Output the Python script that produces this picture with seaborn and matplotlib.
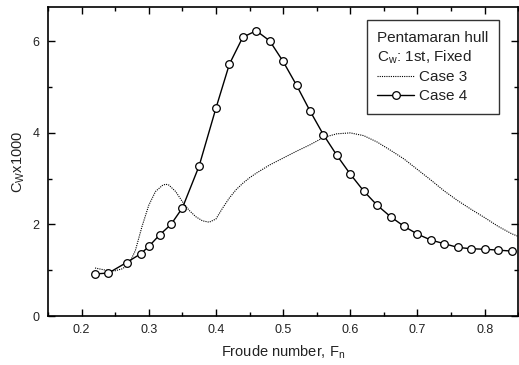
import matplotlib
matplotlib.use("Agg")
import matplotlib.pyplot as plt
import seaborn as sns
import pandas as pd
from matplotlib.ticker import MultipleLocator

# ---- data ----
case3_fn = [0.22, 0.23, 0.24, 0.25, 0.26, 0.27, 0.28, 0.29, 0.30, 0.31, 0.32, 0.325,
            0.33, 0.34, 0.35, 0.36, 0.37, 0.38, 0.39, 0.40, 0.41, 0.42, 0.43, 0.44,
            0.45, 0.46, 0.48, 0.50, 0.52, 0.54, 0.56, 0.58, 0.60, 0.62, 0.64, 0.66,
            0.68, 0.70, 0.72, 0.74, 0.76, 0.78, 0.80, 0.82, 0.84, 0.85]
case3_cw = [1.05, 1.02, 0.99, 0.99, 1.03, 1.12, 1.43, 1.96, 2.42, 2.72, 2.85, 2.88,
            2.86, 2.72, 2.50, 2.31, 2.17, 2.08, 2.05, 2.12, 2.36, 2.58, 2.76, 2.90,
            3.02, 3.12, 3.30, 3.45, 3.60, 3.74, 3.90, 3.98, 4.00, 3.94, 3.80, 3.62,
            3.43, 3.20, 2.97, 2.73, 2.52, 2.33, 2.15, 1.96, 1.80, 1.74]

case4_fn = [0.22, 0.24, 0.267, 0.288, 0.30, 0.316, 0.333, 0.35, 0.375, 0.40, 0.42,
            0.44, 0.46, 0.48, 0.50, 0.52, 0.54, 0.56, 0.58, 0.60, 0.62, 0.64, 0.66,
            0.68, 0.70, 0.72, 0.74, 0.76, 0.78, 0.80, 0.82, 0.84]
case4_cw = [0.92, 0.94, 1.17, 1.36, 1.52, 1.77, 2.00, 2.36, 3.28, 4.54, 5.50,
            6.09, 6.23, 6.01, 5.56, 5.04, 4.48, 3.96, 3.51, 3.10, 2.73, 2.42, 2.17,
            1.96, 1.79, 1.66, 1.58, 1.50, 1.47, 1.46, 1.44, 1.42]

legend_title = "Pentamaran hull\nC$_w$: 1st, Fixed"
series_labels = ["Case 3", "Case 4"]
x_label = "Froude number, F$_n$"
y_label = "C$_W$x1000"

# ---- plotting ----
sns.set_theme(style="ticks")
plt.rcParams["font.family"] = ["Liberation Sans", "DejaVu Sans"]
plt.rcParams["mathtext.default"] = "regular"

fig = plt.figure(figsize=(5.19, 3.65), dpi=100)
ax = fig.add_axes([0.0925, 0.134, 0.906, 0.847])

df3 = pd.DataFrame({"Fn": case3_fn, "Cw": case3_cw})
df4 = pd.DataFrame({"Fn": case4_fn, "Cw": case4_cw})

sns.lineplot(data=df3, x="Fn", y="Cw", ax=ax, color="black", linestyle=(0, (1, 1)),
             linewidth=0.8, label=series_labels[0], sort=True)
sns.lineplot(data=df4, x="Fn", y="Cw", ax=ax, color="black", linewidth=1.0,
             marker="o", markersize=5.5, markerfacecolor="white",
             markeredgecolor="black", markeredgewidth=0.9, label=series_labels[1])

ax.set_xlim(0.15, 0.85)
ax.set_ylim(0, 6.75)
ax.xaxis.set_major_locator(MultipleLocator(0.1))
ax.xaxis.set_minor_locator(MultipleLocator(0.05))
ax.yaxis.set_major_locator(MultipleLocator(2))
ax.yaxis.set_minor_locator(MultipleLocator(1))
ax.tick_params(which="both", direction="in", top=True, right=True,
               width=1.0, color="black", labelsize=9, labelcolor="#222222")
ax.tick_params(which="major", length=5, pad=6)
ax.tick_params(which="minor", length=3)
for s in ax.spines.values():
    s.set_linewidth(1.2)
    s.set_color("black")
    s.set_visible(True)

ax.set_xlabel(x_label, fontsize=10.5, color="#222222", labelpad=5)
ax.set_ylabel(y_label, fontsize=10.5, color="#222222", labelpad=4)

leg = ax.legend(title=legend_title, loc="upper right",
                bbox_to_anchor=(0.960, 0.958), borderaxespad=0,
                frameon=True, fancybox=False, edgecolor="black",
                fontsize=11, title_fontsize=11, handlelength=2.4,
                handletextpad=0.3, labelspacing=0.3, alignment="left",
                borderpad=0.7)
leg.get_frame().set_linewidth(1.0)
leg.get_title().set_color("#222222")
leg.get_title().set_linespacing(1.3)
for t in leg.get_texts():
    t.set_color("#222222")

fig.savefig("out.png", dpi=100)
